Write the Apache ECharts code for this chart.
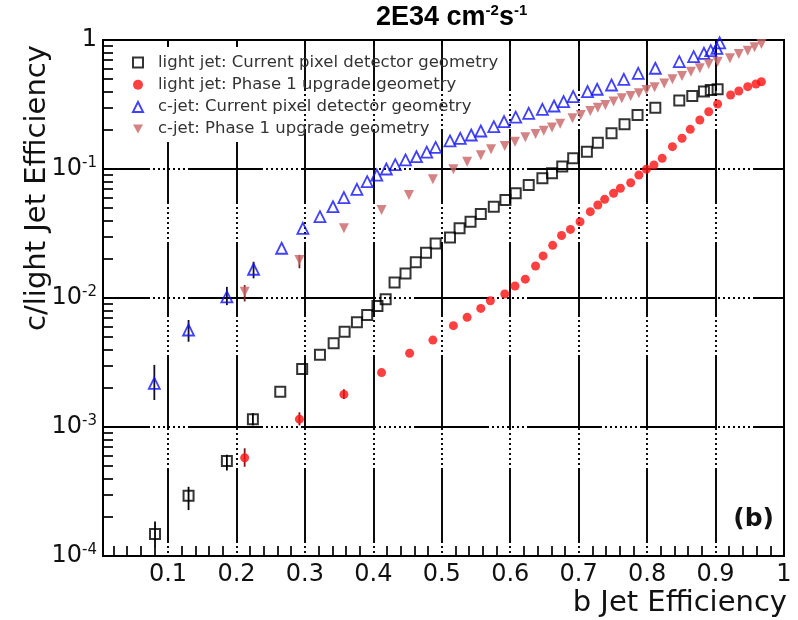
<!DOCTYPE html>
<html>
<head>
<meta charset="utf-8">
<script src="https://cdn.jsdelivr.net/npm/echarts@6/dist/echarts.min.js"></script>
<style>
  html, body { margin: 0; padding: 0; background: #fff; }
  #chart { width: 798px; height: 620px; }
</style>
</head>
<body>
<div id="chart"></div>
<script>
// Mistag rate (c / light jets) versus b-jet efficiency, 2E34 luminosity

// [b efficiency, mistag efficiency]
const lightCurrent = [
  [0.081, 1.48e-4], [0.130, 2.93e-4], [0.186, 5.45e-4], [0.224, 1.15e-3], [0.264, 1.88e-3],
  [0.296, 2.82e-3], [0.322, 3.63e-3], [0.342, 4.45e-3], [0.358, 5.48e-3], [0.376, 6.48e-3],
  [0.391, 7.38e-3], [0.406, 8.67e-3], [0.418, 9.77e-3], [0.431, 0.0132], [0.447, 0.0155],
  [0.462, 0.0189], [0.477, 0.0224], [0.491, 0.0265], [0.512, 0.0295], [0.526, 0.0347],
  [0.542, 0.039], [0.557, 0.0448], [0.576, 0.051], [0.593, 0.0575], [0.608, 0.0648],
  [0.627, 0.0752], [0.647, 0.0847], [0.661, 0.0926], [0.676, 0.1045], [0.692, 0.121],
  [0.712, 0.136], [0.728, 0.16], [0.748, 0.189], [0.767, 0.222], [0.786, 0.262],
  [0.812, 0.299], [0.847, 0.339], [0.866, 0.368], [0.883, 0.398], [0.893, 0.41], [0.903, 0.415]
];
const lightPhase1 = [
  [0.212, 5.78e-4], [0.292, 1.15e-3], [0.357, 1.79e-3], [0.412, 2.64e-3], [0.453, 3.73e-3],
  [0.487, 4.72e-3], [0.517, 6.1e-3], [0.537, 7.08e-3], [0.557, 8.3e-3], [0.571, 9.53e-3],
  [0.592, 0.01075], [0.607, 0.0124], [0.622, 0.014], [0.637, 0.0177], [0.648, 0.0212],
  [0.662, 0.0256], [0.675, 0.0305], [0.688, 0.034], [0.702, 0.039], [0.717, 0.0467],
  [0.728, 0.0526], [0.738, 0.0582], [0.751, 0.0648], [0.761, 0.0709], [0.776, 0.0783],
  [0.788, 0.0898], [0.799, 0.0995], [0.810, 0.1074], [0.822, 0.121], [0.837, 0.149],
  [0.851, 0.173], [0.863, 0.203], [0.877, 0.240], [0.890, 0.278], [0.903, 0.319],
  [0.922, 0.375], [0.934, 0.402], [0.947, 0.435], [0.959, 0.456], [0.967, 0.475]
];
const cCurrent = [
  [0.080, 2.18e-3], [0.130, 5.65e-3], [0.186, 0.0102], [0.225, 0.0167], [0.266, 0.0243],
  [0.297, 0.0347], [0.322, 0.0427], [0.341, 0.051], [0.357, 0.060], [0.376, 0.0696],
  [0.391, 0.0797], [0.405, 0.0898], [0.419, 0.100], [0.432, 0.108], [0.447, 0.1175],
  [0.463, 0.1245], [0.478, 0.135], [0.491, 0.147], [0.512, 0.165], [0.527, 0.173],
  [0.543, 0.1835], [0.557, 0.197], [0.576, 0.213], [0.591, 0.233], [0.608, 0.252],
  [0.627, 0.270], [0.647, 0.290], [0.664, 0.308], [0.678, 0.333], [0.692, 0.364],
  [0.713, 0.398], [0.727, 0.415], [0.748, 0.448], [0.766, 0.496], [0.787, 0.552],
  [0.812, 0.604], [0.847, 0.679], [0.868, 0.743], [0.883, 0.789], [0.893, 0.826],
  [0.902, 0.862], [0.906, 0.95]
];
const cPhase1 = [
  [0.212, 0.0112], [0.292, 0.0197], [0.357, 0.0347], [0.412, 0.048], [0.452, 0.0629],
  [0.487, 0.0832], [0.517, 0.0995], [0.537, 0.114], [0.557, 0.128], [0.572, 0.142],
  [0.592, 0.151], [0.607, 0.163], [0.622, 0.176], [0.637, 0.187], [0.649, 0.198],
  [0.661, 0.210], [0.673, 0.224], [0.691, 0.247], [0.703, 0.262], [0.717, 0.282],
  [0.728, 0.299], [0.739, 0.313], [0.751, 0.333], [0.763, 0.353], [0.776, 0.368],
  [0.788, 0.386], [0.799, 0.41], [0.811, 0.43], [0.825, 0.461], [0.837, 0.496],
  [0.851, 0.526], [0.864, 0.568], [0.877, 0.604], [0.890, 0.652], [0.903, 0.679],
  [0.921, 0.722], [0.934, 0.778], [0.947, 0.826], [0.957, 0.878], [0.967, 0.931]
];

// [b efficiency, low, high] vertical error bars
const lightCurrentErr = [[0.081, 1.18e-4, 1.85e-4], [0.130, 2.27e-4, 3.44e-4], [0.186, 4.6e-4, 6.1e-4], [0.224, 1.03e-3, 1.28e-3]];
const lightPhase1Err = [[0.212, 4.92e-4, 6.84e-4], [0.292, 1.03e-3, 1.3e-3], [0.357, 1.65e-3, 1.96e-3]];
const cCurrentErr = [[0.080, 1.62e-3, 3.03e-3], [0.130, 4.58e-3, 6.75e-3], [0.186, 8.8e-3, 0.0122], [0.225, 0.0142, 0.0191]];
const cPhase1Err = [[0.212, 9.4e-3, 0.0126], [0.292, 0.017, 0.0216]];

const seriesNames = [
  'light jet: Current pixel detector geometry',
  'light jet: Phase 1 upgrade geometry',
  'c-jet: Current pixel detector geometry',
  'c-jet: Phase 1 upgrade geometry'
];

// tick labels / tick positions
const xLabelTicks = [0.1, 0.2, 0.3, 0.4, 0.5, 0.6, 0.7, 0.8, 0.9, 1.0];
const xTopTicks = [0.1, 0.2, 0.3, 0.4, 0.5, 0.6, 0.7, 0.8, 0.9];
const xMinorTicks = [
  0.02, 0.04, 0.06, 0.08, 0.12, 0.14, 0.16, 0.18, 0.22, 0.24, 0.26, 0.28,
  0.32, 0.34, 0.36, 0.38, 0.42, 0.44, 0.46, 0.48, 0.52, 0.54, 0.56, 0.58,
  0.62, 0.64, 0.66, 0.68, 0.72, 0.74, 0.76, 0.78, 0.82, 0.84, 0.86, 0.88,
  0.92, 0.94, 0.96, 0.98
];
const yMinorTicks = [
  2e-4, 3e-4, 4e-4, 5e-4, 6e-4, 7e-4, 8e-4, 9e-4,
  2e-3, 3e-3, 4e-3, 5e-3, 6e-3, 7e-3, 8e-3, 9e-3,
  2e-2, 3e-2, 4e-2, 5e-2, 6e-2, 7e-2, 8e-2, 9e-2,
  0.2, 0.3, 0.4, 0.5, 0.6, 0.7, 0.8, 0.9
];

const FONT = 'DejaVu Sans';
const colors = { light: '#000000', lightP1: '#ff1010', c: '#1010ff', cP1: '#c86464' };
// downward-pointing triangle marker
const TRIANGLE_DOWN = 'path://M0,0 L10,0 L5,9 Z';

// grid lines: long solid stretch followed by a dotted stretch
const gridDash = [75, 3, 2, 3, 2, 3, 2, 3, 2, 3, 2, 3, 2, 3, 2, 3];

function errorBars(color) {
  return function (params, api) {
    const x = api.value(0);
    const p1 = api.coord([x, api.value(1)]);
    const p2 = api.coord([x, api.value(2)]);
    return {
      type: 'line',
      shape: { x1: p1[0], y1: p1[1], x2: p2[0], y2: p2[1] },
      style: { stroke: color, lineWidth: 1.8 }
    };
  };
}

const chart = echarts.init(document.getElementById('chart'), null, { renderer: 'canvas' });

chart.setOption({
  animation: false,
  backgroundColor: '#fff',
  grid: {
    left: 103, right: 14, top: 40, bottom: 64,
    show: true, borderColor: '#000', borderWidth: 2, backgroundColor: 'transparent'
  },
  legend: {
    data: seriesNames,
    orient: 'vertical',
    left: 127, top: 49,
    itemWidth: 10, itemHeight: 10, itemGap: 5.2,
    selectedMode: false,
    textStyle: { fontFamily: FONT, fontSize: 16.5, color: '#333', lineHeight: 16, padding: [0, 0, 0, 10] }
  },
  xAxis: [
    {
      type: 'value', min: 0.005, max: 1, splitNumber: 10, position: 'bottom',
      axisLine: { show: true, lineStyle: { color: '#000', width: 2 } },
      axisTick: { show: false },
      axisLabel: {
        customValues: xLabelTicks,
        formatter: v => (v >= 0.999 ? '1' : v.toFixed(1)),
        fontFamily: FONT, fontSize: 24, color: '#111', margin: 7
      },
      splitLine: { show: true, lineStyle: { color: '#000', width: 1.9, type: gridDash, dashOffset: 24 } }
    },
    {
      type: 'value', min: 0.005, max: 1, position: 'bottom',
      axisLine: { show: false },
      axisLabel: { show: false },
      splitLine: { show: false },
      axisTick: { show: true, inside: true, length: 10, customValues: xMinorTicks, lineStyle: { color: '#000', width: 1.7 } }
    },
    {
      type: 'value', min: 0.005, max: 1, position: 'top',
      axisLine: { show: false },
      axisLabel: { show: false },
      splitLine: { show: false },
      axisTick: { show: true, inside: true, length: 6, customValues: xTopTicks, lineStyle: { color: '#000', width: 1.9 } }
    }
  ],
  yAxis: [
    {
      type: 'log', logBase: 10, min: 1e-4, max: 1, position: 'left',
      axisLine: { show: true, lineStyle: { color: '#000', width: 2 } },
      axisTick: { show: false },
      axisLabel: {
        margin: 6,
        formatter: v => {
          const e = Math.round(Math.log10(v));
          return e === 0 ? '{n|1}' : '{n|10}{s|' + e + '}';
        },
        rich: {
          n: { fontFamily: FONT, fontSize: 24, color: '#111', lineHeight: 26 },
          s: { fontFamily: FONT, fontSize: 15, color: '#111', lineHeight: 14, verticalAlign: 'top' }
        }
      },
      splitLine: { show: true, lineStyle: { color: '#000', width: 1.9, type: gridDash, dashOffset: 28 } }
    },
    {
      // minor decade ticks, placed on a log10 scale
      type: 'value', min: -4, max: 0, position: 'left',
      axisLine: { show: false },
      axisLabel: { show: false },
      splitLine: { show: false },
      axisTick: { show: true, inside: true, length: 10, customValues: yMinorTicks.map(Math.log10), lineStyle: { color: '#000', width: 1.7 } }
    }
  ],
  graphic: [
    {
      type: 'rect', z: 1, silent: true,
      shape: { x: 116, y: 47, width: 180, height: 95 },
      style: { fill: '#fff' }
    },
    {
      type: 'text', left: 376, top: 3,
      style: {
        text: '{b|2E34 cm}{s|-2}{b|s}{s|-1}',
        rich: {
          b: { fontFamily: 'Liberation Sans', fontWeight: 'bold', fontSize: 27, fill: '#000', lineHeight: 30 },
          s: { fontFamily: 'Liberation Sans', fontWeight: 'bold', fontSize: 15, fill: '#000', lineHeight: 16, verticalAlign: 'top' }
        }
      }
    },
    {
      type: 'text', x: 787, y: 603,
      style: { text: 'b Jet Efficiency', font: '29px "DejaVu Sans"', fill: '#111', align: 'right', verticalAlign: 'middle' }
    },
    {
      type: 'text', x: 37, y: 188, rotation: Math.PI / 2,
      style: { text: 'c/light Jet Efficiency', font: '29px "DejaVu Sans"', fill: '#111', align: 'center', verticalAlign: 'middle' }
    },
    {
      type: 'text', x: 774, y: 519,
      style: { text: '(b)', font: 'bold 25px "DejaVu Sans"', fill: '#111', align: 'right', verticalAlign: 'middle' }
    }
  ],
  series: [
    { type: 'custom', name: 'err-light', z: 2, data: lightCurrentErr, encode: { x: 0, y: [1, 2] }, renderItem: errorBars('#000') },
    { type: 'custom', name: 'err-lightP1', z: 2, data: lightPhase1Err, encode: { x: 0, y: [1, 2] }, renderItem: errorBars('#8a1010') },
    { type: 'custom', name: 'err-c', z: 2, data: cCurrentErr, encode: { x: 0, y: [1, 2] }, renderItem: errorBars('#111122') },
    { type: 'custom', name: 'err-cP1', z: 2, data: cPhase1Err, encode: { x: 0, y: [1, 2] }, renderItem: errorBars('#7a2020') },
    {
      type: 'scatter', name: seriesNames[0], z: 3, data: lightCurrent,
      symbol: 'rect', symbolSize: 10,
      itemStyle: { color: 'rgba(255,255,255,0)', borderColor: colors.light, borderWidth: 2 }
    },
    {
      type: 'scatter', name: seriesNames[1], z: 3, data: lightPhase1,
      symbol: 'circle', symbolSize: 9,
      itemStyle: { color: colors.lightP1 }
    },
    {
      type: 'scatter', name: seriesNames[2], z: 3, data: cCurrent,
      symbol: 'triangle', symbolSize: 11,
      itemStyle: { color: 'rgba(255,255,255,0)', borderColor: colors.c, borderWidth: 1.8 }
    },
    {
      type: 'scatter', name: seriesNames[3], z: 3, data: cPhase1,
      symbol: TRIANGLE_DOWN, symbolSize: 10,
      itemStyle: { color: colors.cP1 }
    }
  ]
});
</script>
</body>
</html>
